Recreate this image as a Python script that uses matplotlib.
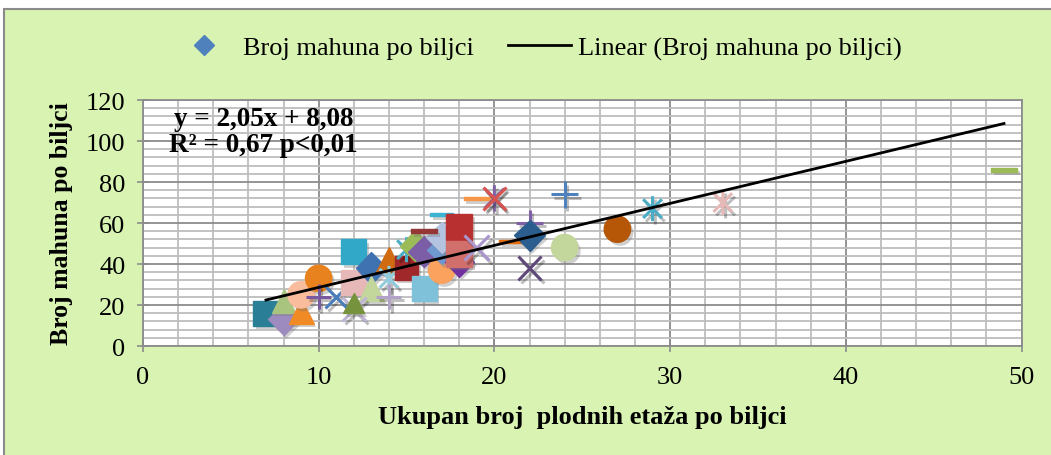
import numpy as np
import matplotlib
matplotlib.use("Agg")
import matplotlib.pyplot as plt
from matplotlib.path import Path
import matplotlib.patheffects as pe
from matplotlib.lines import Line2D
from matplotlib.ticker import MultipleLocator

# ---- data ----
etaze = [7, 8, 8, 9, 9, 10, 10, 11, 12, 12, 13, 13, 12, 12, 14, 14, 14, 15, 15,
         15.5, 16, 16, 17, 17, 17, 17, 16, 18, 18, 18, 19, 19, 20, 20, 24, 21,
         22, 22, 22, 24, 27, 29, 33, 49]
mahune = [16, 13, 22, 17, 25, 33, 24, 24, 46, 31, 38, 28, 18, 21, 42, 33, 24, 38, 47,
          49, 46, 28, 37, 47, 53, 64, 56, 58, 41, 45, 48, 72, 72, 72, 74, 51,
          60, 54, 38, 48, 57, 67, 70, 86]
slope = 2.05
intercept = 8.08
x_ticks = [0, 10, 20, 30, 40, 50]
y_ticks = [0, 20, 40, 60, 80, 100, 120]
series_label = "Broj mahuna po biljci"
trend_label = "Linear (Broj mahuna po biljci)"
x_title = "Ukupan broj  plodnih etaža po biljci"
y_title = "Broj mahuna po biljci"
eq_text = "y = 2,05x + 8,08\nR² = 0,67 p<0,01"

# ---- styles (Excel varied markers) ----
star = Path([(0, -1), (0, 1), (-0.75, -0.75), (0.75, 0.75), (-0.75, 0.75), (0.75, -0.75)],
            [Path.MOVETO, Path.LINETO, Path.MOVETO, Path.LINETO, Path.MOVETO, Path.LINETO])
dash = Path([(-1, -0.14), (1, -0.14), (1, 0.14), (-1, 0.14), (-1, -0.14)],
            [Path.MOVETO, Path.LINETO, Path.LINETO, Path.LINETO, Path.CLOSEPOLY])
styles = [
    ('s', '#2a7f96', 18), ('D', '#9d8bbf', 16), ('^', '#a9c47f', 17), ('^', '#f08a24', 18),
    ('o', '#f9bc9d', 19), ('o', '#e8821e', 19), ('+', '#7a5a9e', 18), ('x', '#4a7ebb', 16),
    ('s', '#31a8c8', 18), ('s', '#e6b9b8', 18), ('D', '#3f72b0', 16), ('^', '#c3d69b', 18),
    ('x', '#c0b5d6', 17), ('^', '#76923c', 15), ('^', '#d06b12', 18), (star, '#93cddd', 18),
    ('+', '#b3a2c7', 18), ('s', '#a0282a', 17), (star, '#4bacc6', 18),
    ('D', '#9bbb59', 16), ('D', '#7b5ea6', 16), ('s', '#7fc1d9', 18), ('o', '#fba25f', 19),
    ('D', '#6f98d0', 15), ('D', '#b3c3e0', 16), (dash, '#3bb3d3', 17), (dash, '#953735', 19),
    ('s', '#b83030', 19), ('D', '#7030a0', 15), ('s', '#d16f6d', 19), ('x', '#a896cc', 18),
    (dash, '#f79646', 19), (star, '#8064a2', 19), ('x', '#d9534f', 16), ('+', '#4f81bd', 19),
    (dash, '#e46c0a', 19), ('+', '#7f60a8', 19), ('D', '#2c5d8f', 16), ('x', '#5f497a', 17),
    ('o', '#c3d69b', 19), ('o', '#b65708', 19), (star, '#4bacc6', 18), (star, '#e6b9b8', 18),
    (dash, '#9bbb59', 19),
]

plt.rcParams['font.family'] = ['Liberation Serif', 'DejaVu Serif']

fig = plt.figure(figsize=(10.51, 4.56), dpi=100, facecolor='white')
bg = plt.Rectangle((0.004, -0.05), 1.05, 1.028, transform=fig.transFigure,
                   facecolor='#d8f3b2', edgecolor='#8a8a8a', linewidth=1.5, zorder=-10)
fig.patches.append(bg)

ax = fig.add_axes([0.136, 0.239, 0.836, 0.5395])
ax.set_facecolor('white')
ax.set_xlim(0, 50)
ax.set_ylim(0, 120)
ax.set_xticks(x_ticks)
ax.set_yticks(y_ticks)
ax.xaxis.set_minor_locator(MultipleLocator(2))
ax.yaxis.set_minor_locator(MultipleLocator(4))
ax.grid(which='major', color='#8c8c8c', linewidth=1.3, zorder=0)
ax.grid(which='minor', color='#bdbdbd', linewidth=1.3, zorder=0)
ax.set_axisbelow(True)
ax.tick_params(which='minor', length=0)
ax.tick_params(which='major', direction='inout', length=9, color='#8c8c8c', width=1.2,
               labelsize=19)
ax.tick_params(axis='x', pad=10)
ax.tick_params(axis='y', pad=8)
for s in ax.spines.values():
    s.set_color('#8c8c8c')
    s.set_linewidth(1.3)

shadow = [pe.SimplePatchShadow(offset=(2, -2.5), shadow_rgbFace='#777777', alpha=0.35), pe.Normal()]
for xi, yi, (m, c, ms) in zip(etaze, mahune, styles):
    lineish = m in ('x', '+') or m is star
    if lineish:
        ax.plot([xi], [yi], linestyle='none', marker=m, markersize=ms, markeredgecolor=c,
                markeredgewidth=2.2, zorder=3,
                path_effects=[pe.SimpleLineShadow(offset=(2, -2.5), alpha=0.25), pe.Normal()])
    else:
        ax.plot([xi], [yi], linestyle='none', marker=m, markersize=ms, markerfacecolor=c,
                markeredgecolor=c, markeredgewidth=1.0, zorder=3, path_effects=shadow)

xs = np.array([min(etaze), max(etaze)])
ax.plot(xs, slope * xs + intercept, color='black', linewidth=2.0, zorder=5)

ax.text(0.137, 0.975, eq_text, transform=ax.transAxes, fontsize=19.5, fontweight='bold',
        ha='center', va='top', linespacing=1.05, zorder=6)

ax.set_xlabel(x_title, fontsize=19, fontweight='bold', labelpad=12)
ax.set_ylabel(y_title, fontsize=18.5, fontweight='bold', labelpad=9)

handles = [Line2D([], [], linestyle='none', marker='D', markersize=10, color='#4f81bd'),
           Line2D([], [], color='black', linewidth=2)]
fig.legend(handles, [series_label, trend_label], loc='center', bbox_to_anchor=(0.511, 0.893),
           ncol=2, frameon=False, fontsize=19, handlelength=2.4, columnspacing=1.3,
           handletextpad=0.25)

fig.savefig('out.png', dpi=100, facecolor=fig.get_facecolor())
